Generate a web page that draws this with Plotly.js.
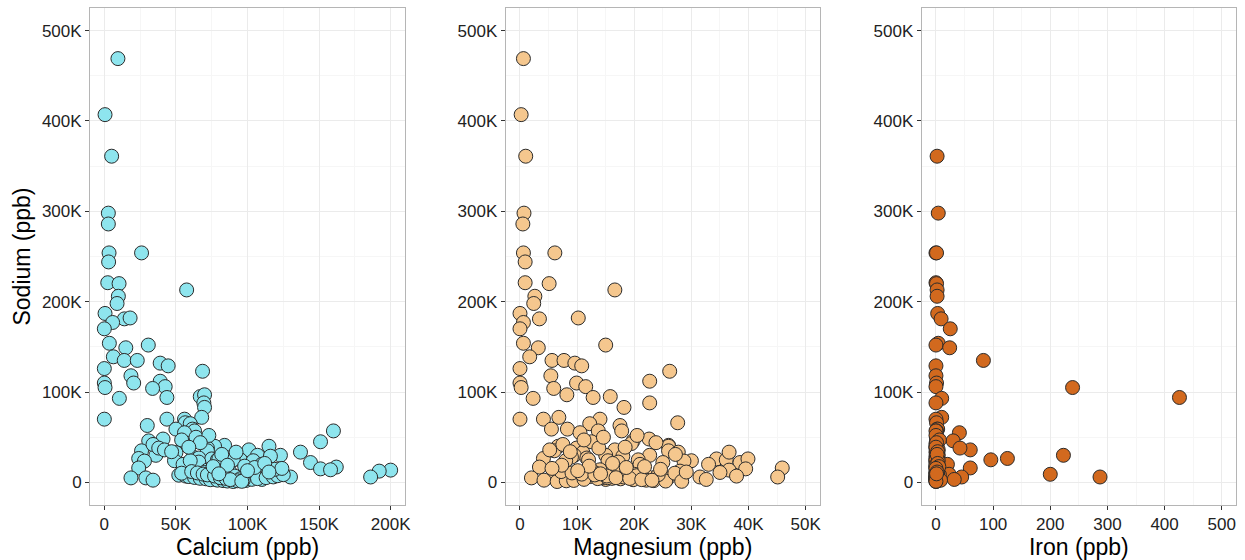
<!DOCTYPE html>
<html>
<head>
<meta charset="utf-8">
<script src="https://cdn.plot.ly/plotly-3.0.1.min.js"></script>
<style>html,body{margin:0;padding:0;background:#fff;}#chart{width:1245px;height:560px;}</style>
</head>
<body>
<div id="chart"></div>
<script>
// Sodium (thousands of ppb) per sample
const sodiumK = [
  469, 407, 361, 298, 286, 254, 254, 244, 221, 220,
  213, 206, 198, 187, 181, 182, 177, 170, 154, 152,
  149, 139, 135, 135, 132, 129, 126, 123, 118, 110,
  110, 105, 112, 106, 104, 94, 93, 95, 97, 88,
  83, 72, 70, 70, 70, 66, 65, 63, 59, 59,
  57, 57, 55, 45, 46, 48, 43, 41, 40, 36,
  40, 38, 35, 35, 33.5, 33, 30, 30, 30, 29,
  28, 27, 26.5, 26, 25, 25, 24, 24, 23.6, 22.5,
  22, 22, 20, 20, 26, 25, 24, 33.5, 17, 16,
  15, 14, 13.6, 13.6, 12.5, 11, 11, 9, 9, 7,
  6, 6, 6, 6, 5, 5, 4, 3.3, 3.3, 2.5,
  8, 7, 6.5, 5.5, 4.5, 4, 3, 2.5, 2, 1.5,
  1, 1.8, 2.2, 3.4, 4.2, 5.3, 6.1, 7.4, 8.6, 10.2,
  12, 10.5, 9.2, 8.3, 7.1, 5.2, 4.4, 3.1, 2.4, 1.2,
  42, 38, 36, 50, 52, 47, 44, 39, 34, 31,
  18, 16.5, 14.5, 19, 21, 13, 17.5, 15.5, 11.5, 9.5
];
// Calcium (thousands of ppb)
const calciumK = [
  9.5, 0.5, 5.1, 2.8, 2.8, 3.3, 26, 3.0, 2.4, 10.3,
  57.5, 9.8, 8.9, 0.5, 14, 18, 5.8, 0, 3.5, 30.7,
  15, 6.3, 13.9, 23, 39, 44.6, 0, 68.6, 18.6, 20.5,
  0, 0.5, 39, 42.5, 33.7, 43.7, 10.5, 67, 70, 69.5,
  70, 68, 0, 43.7, 56, 56.5, 60, 30, 50, 61.6,
  160, 63, 56, 151, 31, 41, 58, 84, 77, 101,
  115, 72, 72, 26, 137, 50, 123, 107, 36, 116,
  62, 66, 24, 75, 79, 95, 49, 104, 28, 66,
  144, 88, 110, 55, 80, 90, 60, 92, 162, 24,
  151, 158, 72, 200, 192, 88, 70, 60, 82, 91,
  186, 130, 101, 64, 18.6, 29, 95, 110, 78, 34,
  52, 57, 59, 63, 67, 71, 74, 79, 83, 86,
  90, 93, 99, 103, 107, 113, 118, 121, 125, 54,
  61, 65, 69, 72, 77, 81, 85, 88, 97, 96,
  34, 38, 42, 64, 73, 54, 67, 59, 47, 82,
  98, 105, 119, 86, 112, 100, 76, 124, 115, 80
];
// Magnesium (thousands of ppb)
const magnesiumK = [
  0.6, 0.2, 1.0, 0.7, 0.5, 0.6, 6.1, 0.9, 0.9, 5.1,
  16.6, 2.6, 2.4, 0, 3.4, 10.2, 0.6, 0, 0.6, 15,
  3.2, 1.7, 5.6, 7.7, 9.6, 10.8, 0, 26.2, 5.4, 9.9,
  0, 0.2, 22.7, 11.5, 5.9, 12.8, 2.3, 15.8, 8.2, 22.7,
  18.2, 6.8, 0, 4.1, 14, 27.6, 12.2, 17.5, 5.5, 8.3,
  13.7, 17.8, 10.5, 12.5, 19.8, 22.6, 19.5, 26, 6.7, 16.6,
  26, 9.9, 26, 6.0, 27.7, 11, 22.7, 9.5, 15, 18,
  9, 11.7, 4.1, 34.4, 20.7, 36.1, 15.4, 30, 28.7, 17.2,
  38.5, 25, 33, 21, 39.9, 12, 8, 36.6, 3.4, 45.9,
  39.5, 14, 17, 36.6, 28, 35, 13, 12.7, 20, 37.9,
  31.5, 45.1, 22.4, 10.5, 2.0, 6.1, 25.8, 32.6, 15, 4.2,
  8.6, 10.5, 12.3, 14.5, 16.1, 17.6, 19.8, 22.1, 23.4, 25.5,
  6.5, 8.1, 9.4, 11.2, 13.6, 15.3, 18.1, 20.4, 24.2, 27.1,
  7.2, 9.1, 10.8, 13.1, 15.2, 16.8, 19.2, 21.3, 23.1, 28.3,
  7.5, 13.8, 5.2, 14.6, 20.5, 11.2, 23.8, 18.4, 8.8, 27.2,
  12.1, 18.6, 24.6, 7.3, 16.2, 10.1, 21.8, 5.6, 29.1, 14.1
];
// Iron (ppb); null = not measured
const ironPpb = [
  null, null, 2, 4, null, 0, 1, null, 0, 1,
  2, 2, null, 3, 9, null, null, 25, 4, 0,
  24, null, 83, null, null, 0, null, null, 0, 1,
  null, 239, null, 0, null, 426, 10, null, null, 0,
  null, 10, 0, null, null, 1, null, null, 2, 3,
  1, 0, 41, 2, 30, 1, 0, 2, null, 60,
  0, 42, 1, 3, 0, 2, 223, 1, 4, 0,
  1, 2, 125, 0, 96, 3, 1, 5, 0, 2,
  0, 3, 20, 1, 2, 0, 4, 1, 0, 60,
  0, 2, 1, 3, 5, 0, 1, 23, 200, 4,
  287, 45, 0, 2, 1, 3, 0, 32, 6, 1,
  0, 1, 2, 0, 3, 1, 0, 2, 0, 1,
  0, 2, 1, 0, 4, 1, 0, 2, 6, 0,
  1, 0, 3, 1, 0, 2, 0, 1, 8, 0,
  1, 0, 4, 2, 0, 6, 1, 0, 3, 2,
  0, 1, 2, 0, 3, 1, 5, 0, 2, 1
];

const naTickVals = [0, 100000, 200000, 300000, 400000, 500000];
const naTickText = ['0', '100K', '200K', '300K', '400K', '500K'];
const caTickVals = [0, 50000, 100000, 150000, 200000];
const caTickText = ['0', '50K', '100K', '150K', '200K'];
const mgTickVals = [0, 10000, 20000, 30000, 40000, 50000];
const mgTickText = ['0', '10K', '20K', '30K', '40K', '50K'];
const feTickVals = [0, 100, 200, 300, 400, 500];
const feTickText = ['0', '100', '200', '300', '400', '500'];

const sodium = sodiumK.map(v => v * 1000);
const calcium = calciumK.map(v => v * 1000);
const magnesium = magnesiumK.map(v => v * 1000);

const mk = (color) => ({size: 14, color: color, line: {color: '#2b2b2b', width: 1}});
const traces = [
  {type: 'scatter', mode: 'markers', x: calcium, y: sodium, xaxis: 'x', yaxis: 'y', marker: mk('#8ee5ee'), hoverinfo: 'x+y'},
  {type: 'scatter', mode: 'markers', x: magnesium, y: sodium, xaxis: 'x2', yaxis: 'y2', marker: mk('#f5c78e'), hoverinfo: 'x+y'},
  {type: 'scatter', mode: 'markers', x: ironPpb, y: sodium, xaxis: 'x3', yaxis: 'y3', marker: mk('#d2691e'), hoverinfo: 'x+y'}
];

const tickFont = {family: 'Liberation Sans, Arial, sans-serif', size: 17, color: '#222222'};
const titleFont = {family: 'Liberation Sans, Arial, sans-serif', size: 23, color: '#000000'};
function xax(domain, range, vals, text, minorVals, title) {
  return {
    domain: domain, range: range, tickmode: 'array', tickvals: vals, ticktext: text,
    showline: true, mirror: true, linecolor: '#b5b5b5', linewidth: 1,
    showgrid: true, gridcolor: '#ebebeb', gridwidth: 1, zeroline: false,
    ticks: 'outside', ticklen: 4, tickcolor: '#333333', tickwidth: 1,
    tickfont: tickFont,
    minor: {tickmode: 'array', tickvals: minorVals, showgrid: true, gridcolor: '#f6f6f6', ticks: ''},
    title: {text: title, font: titleFont, standoff: 2}, fixedrange: true
  };
}
function yax(anchor, showTitle) {
  return {
    domain: [0.0982, 0.9857], range: [-25000, 525000], anchor: anchor,
    tickmode: 'array', tickvals: naTickVals, ticktext: naTickText,
    showline: true, mirror: true, linecolor: '#b5b5b5', linewidth: 1,
    showgrid: true, gridcolor: '#ebebeb', gridwidth: 1, zeroline: false,
    ticks: 'outside', ticklen: 4, tickcolor: '#333333', tickwidth: 1,
    tickfont: tickFont,
    minor: {tickmode: 'array', tickvals: [50000, 150000, 250000, 350000, 450000], showgrid: true, gridcolor: '#f6f6f6', ticks: ''},
    title: showTitle ? {text: 'Sodium (ppb)', font: titleFont, standoff: 4} : {text: ''},
    fixedrange: true
  };
}

const layout = {
  width: 1245, height: 560, showlegend: false,
  paper_bgcolor: '#ffffff', plot_bgcolor: '#ffffff',
  margin: {l: 0, r: 0, t: 0, b: 0},
  xaxis: xax([0.0723, 0.3253], [-10000, 210000], caTickVals, caTickText, [25000, 75000, 125000, 175000], 'Calcium (ppb)'),
  xaxis2: Object.assign(xax([0.4062, 0.6586], [-2500, 52500], mgTickVals, mgTickText, [5000, 15000, 25000, 35000, 45000], 'Magnesium (ppb)'), {anchor: 'y2'}),
  xaxis3: Object.assign(xax([0.7403, 0.9928], [-25, 525], feTickVals, feTickText, [50, 150, 250, 350, 450], 'Iron (ppb)'), {anchor: 'y3'}),
  yaxis: yax('x', true),
  yaxis2: yax('x2', false),
  yaxis3: yax('x3', false)
};
layout.xaxis.anchor = 'y';

Plotly.newPlot('chart', traces, layout, {displayModeBar: false, staticPlot: true});
</script>
</body>
</html>
